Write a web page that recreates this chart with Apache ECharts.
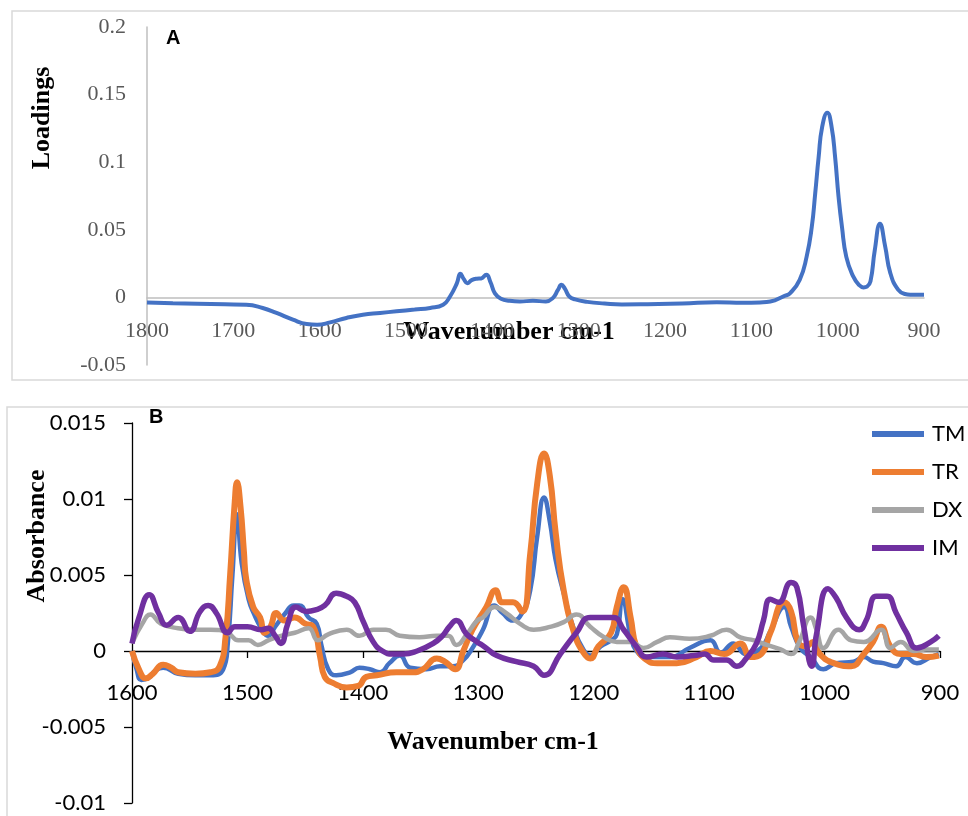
<!DOCTYPE html>
<html>
<head>
<meta charset="utf-8">
<script src="https://cdn.jsdelivr.net/npm/echarts@6/dist/echarts.min.js"></script>
<style>
  html, body { margin: 0; padding: 0; background: #fff; }
  #chart { width: 968px; height: 816px; }
</style>
</head>
<body>
<div id="chart"></div>
<script>
// Panel A: PCA loadings spectrum
const loadingsWavenumber = [1800, 1770, 1742, 1710, 1685, 1666, 1650, 1631, 1615, 1603, 1588, 1569, 1550, 1530, 1511, 1490, 1472, 1457, 1449, 1441, 1437, 1433, 1429, 1424, 1418, 1413, 1407, 1402, 1397, 1390, 1380, 1368, 1353, 1338, 1330, 1324, 1320, 1316, 1311, 1304, 1290, 1270, 1250, 1220, 1180, 1140, 1110, 1090, 1078, 1062, 1055, 1044, 1036, 1030, 1026, 1022, 1018, 1012, 1007, 1003, 999, 995, 990, 982, 975, 970, 966, 962, 957, 951, 945, 939, 930, 922, 916, 900];
const loadingsValues = [-0.0037, -0.0043, -0.0047, -0.0051, -0.0054, -0.0078, -0.0115, -0.0165, -0.0197, -0.0202, -0.0185, -0.0152, -0.0128, -0.0115, -0.0103, -0.009, -0.0078, -0.0054, 0.0007, 0.0106, 0.0175, 0.0135, 0.0105, 0.0128, 0.0138, 0.014, 0.0167, 0.011, 0.003, -0.001, -0.0025, -0.003, -0.0025, -0.003, -0.0005, 0.0055, 0.0093, 0.0065, 0.0008, -0.0015, -0.0033, -0.0045, -0.0052, -0.005, -0.0045, -0.0035, -0.004, -0.0037, -0.003, 0.001, 0.0032, 0.013, 0.030, 0.052, 0.077, 0.104, 0.126, 0.1366, 0.126, 0.104, 0.0746, 0.052, 0.030, 0.0155, 0.009, 0.0074, 0.008, 0.0118, 0.035, 0.0544, 0.0377, 0.018, 0.0057, 0.0025, 0.002, 0.002];

// Panel B: absorbance spectra
const tmWavenumber = [1600, 1596, 1592, 1586, 1580, 1573, 1560, 1545, 1532, 1521, 1517, 1513, 1509, 1505, 1499, 1494, 1488, 1482, 1476, 1467, 1460, 1455, 1447, 1440, 1436, 1430, 1423, 1411, 1403, 1394, 1385, 1377, 1368, 1359, 1345, 1333, 1322, 1313, 1305, 1296, 1286, 1279, 1270, 1262, 1255, 1249, 1243, 1238, 1233, 1226, 1217, 1209, 1203, 1194, 1185, 1180, 1175, 1168, 1163, 1154, 1134, 1117, 1099, 1090, 1079, 1068, 1055, 1047, 1035, 1029, 1021, 1012, 1001, 990, 975, 966, 958, 949, 938, 930, 920, 908, 901];
const tmAbsorbance = [0, -0.0012, -0.0019, -0.0018, -0.0013, -0.0011, -0.0015, -0.0016, -0.0016, -0.0012, 0.0005, 0.005, 0.009, 0.0058, 0.0034, 0.0024, 0.0015, 0.001, 0.0016, 0.0025, 0.003, 0.003, 0.0022, 0.0018, 0.0004, -0.0012, -0.0016, -0.0014, -0.0011, -0.0012, -0.0014, -0.0008, -0.0003, -0.0011, -0.0012, -0.001, -0.001, -0.0006, 0.0002, 0.0014, 0.003, 0.0025, 0.002, 0.0025, 0.004, 0.0075, 0.0101, 0.0085, 0.006, 0.0038, 0.0014, 0.0001, -0.0003, 0.0003, 0.0007, 0.0011, 0.0034, 0.001, 0, -0.0004, -0.0004, 0.0002, 0.0007, -0.0001, 0.0005, -0.0002, 0.0002, 0.0013, 0.0029, 0.0016, 0.0002, -0.0004, -0.0012, -0.0008, -0.0007, -0.0004, -0.0007, -0.0008, -0.001, -0.0004, -0.0008, -0.0004, -0.0002];

const trWavenumber = [1600, 1594, 1588, 1582, 1573, 1566, 1560, 1545, 1532, 1524, 1519, 1515, 1511, 1509, 1506, 1503, 1501, 1495, 1489, 1485, 1480, 1475, 1468, 1459, 1450, 1443, 1437, 1433, 1426, 1414, 1404, 1397, 1388, 1371, 1357, 1348, 1336, 1329, 1320, 1313, 1305, 1293, 1285, 1279, 1270, 1262, 1255, 1249, 1243, 1238, 1233, 1226, 1217, 1209, 1203, 1196, 1185, 1180, 1174, 1168, 1163, 1154, 1145, 1128, 1111, 1099, 1087, 1073, 1064, 1055, 1047, 1035, 1029, 1023, 1016, 1010, 1004, 992, 977, 966, 958, 951, 943, 934, 923, 912, 901];
const trAbsorbance = [0, -0.0012, -0.0018, -0.0015, -0.0009, -0.0011, -0.0014, -0.0015, -0.0014, -0.001, 0.0009, 0.005, 0.0098, 0.0111, 0.0095, 0.0065, 0.0047, 0.0029, 0.0022, 0.0012, 0.0016, 0.0025, 0.002, 0.0022, 0.0018, 0.0016, -0.0004, -0.0017, -0.0021, -0.0024, -0.0023, -0.0017, -0.0016, -0.0014, -0.0014, -0.0012, -0.0005, -0.0007, -0.0012, 0, 0.0014, 0.0029, 0.004, 0.0032, 0.0032, 0.0026, 0.0064, 0.011, 0.013, 0.0115, 0.0078, 0.004, 0.0012, -0.0001, -0.0005, 0.0003, 0.0012, 0.0029, 0.0042, 0.0022, 0.0003, -0.0006, -0.0008, -0.0008, -0.0004, 0, -0.0002, 0.0005, -0.0004, -0.0002, 0.0012, 0.0032, 0.0026, 0.0006, 0.0003, 0.0006, -0.0002, -0.0008, -0.001, -0.0002, 0.0006, 0.0016, 0.0003, -0.0002, -0.0002, -0.0004, -0.0003];

const dxWavenumber = [1600, 1591, 1584, 1575, 1560, 1545, 1532, 1517, 1508, 1499, 1491, 1482, 1471, 1459, 1447, 1439, 1430, 1414, 1403, 1391, 1380, 1368, 1351, 1336, 1326, 1319, 1310, 1301, 1296, 1286, 1276, 1264, 1252, 1237, 1226, 1215, 1203, 1191, 1180, 1168, 1157, 1145, 1134, 1117, 1099, 1085, 1073, 1061, 1050, 1038, 1029, 1022, 1012, 1007, 1001, 988, 977, 966, 951, 943, 934, 923, 912, 901];
const dxAbsorbance = [0.0005, 0.0018, 0.0024, 0.0018, 0.0015, 0.0014, 0.0014, 0.0012, 0.0007, 0.0007, 0.0004, 0.0007, 0.001, 0.0012, 0.0015, 0.0007, 0.0011, 0.0014, 0.001, 0.0014, 0.0014, 0.001, 0.0009, 0.001, 0.001, 0.0004, 0.0011, 0.002, 0.0022, 0.0029, 0.0025, 0.0018, 0.0014, 0.0016, 0.0019, 0.0024, 0.0016, 0.0009, 0.0006, 0.0006, 0.0002, 0.0006, 0.0009, 0.0008, 0.001, 0.0014, 0.0009, 0.0007, 0.0004, 0.0001, -0.0002, 0.0006, 0.0022, 0.0014, 0.0002, 0.0014, 0.0007, 0.0006, 0.0014, 0.0002, 0.0006, 0, 0.0001, 0.0001];

const imWavenumber = [1600, 1594, 1585, 1577, 1570, 1560, 1550, 1541, 1534, 1527, 1517, 1511, 1500, 1488, 1482, 1476, 1471, 1465, 1458, 1449, 1441, 1433, 1423, 1414, 1407, 1400, 1391, 1383, 1374, 1365, 1353, 1339, 1331, 1325, 1319, 1310, 1301, 1295, 1284, 1267, 1252, 1243, 1229, 1215, 1203, 1183, 1174, 1163, 1154, 1140, 1128, 1113, 1104, 1096, 1085, 1076, 1068, 1059, 1053, 1047, 1040, 1029, 1024, 1018, 1011, 1007, 997, 990, 981, 970, 964, 955, 946, 938, 929, 920, 908, 901];
const imAbsorbance = [0.0005, 0.0022, 0.0037, 0.0025, 0.0017, 0.0022, 0.0013, 0.0026, 0.003, 0.0025, 0.0012, 0.0016, 0.0016, 0.0014, 0.0015, 0.001, 0.0005, 0.0018, 0.0029, 0.0026, 0.0027, 0.003, 0.0038, 0.0036, 0.0032, 0.002, 0.0006, 0, -0.0002, -0.0002, 0, 0.0005, 0.001, 0.0016, 0.002, 0.0011, 0.0006, 0.0003, -0.0003, -0.0007, -0.001, -0.0016, -0.0002, 0.0012, 0.0022, 0.0022, 0.0014, 0.0003, -0.0004, -0.0002, -0.0004, -0.0003, -0.0002, -0.0006, -0.0006, -0.001, -0.0005, 0.0005, 0.002, 0.0034, 0.0032, 0.0045, 0.0042, 0.0016, -0.001, 0.0011, 0.0041, 0.0035, 0.0022, 0.0014, 0.002, 0.0036, 0.0036, 0.0025, 0.0012, 0.0002, 0.0006, 0.001];

const seriesNames = ['TM', 'TR', 'DX', 'IM'];
const seriesColors = ['#4472C4', '#ED7D31', '#A5A5A5', '#7030A0'];
const seriesWidths = [4.5, 6, 4.5, 5.5];

const loadingsTicks = { min: -0.05, max: 0.2, interval: 0.05 };
const absorbanceTicks = { min: -0.01, max: 0.015, interval: 0.005 };

function pairs(xs, ys) { return xs.map((x, i) => [x, ys[i]]); }
const plain = v => String(v);

const bSets = [
  pairs(tmWavenumber, tmAbsorbance),
  pairs(trWavenumber, trAbsorbance),
  pairs(dxWavenumber, dxAbsorbance),
  pairs(imWavenumber, imAbsorbance)
];

const serif = '"Liberation Serif", "Times New Roman", serif';
const sans = 'Lato, "Liberation Sans", Arial, sans-serif';

const chart = echarts.init(document.getElementById('chart'), null, { renderer: 'canvas' });

chart.setOption({
  animation: false,
  backgroundColor: '#ffffff',
  grid: [
    { left: 147, right: 44, top: 27, bottom: 451, outerBoundsMode: 'none', containLabel: false },
    { left: 132, right: 28, top: 423, bottom: 13, outerBoundsMode: 'none', containLabel: false }
  ],
  legend: {
    data: seriesNames,
    orient: 'vertical',
    left: 867,
    top: 410,
    icon: 'rect',
    itemWidth: 52,
    itemHeight: 6,
    itemGap: 0,
    textStyle: { fontFamily: sans, fontSize: 22, color: '#000', lineHeight: 38, padding: [0, 0, 0, 3] }
  },
  xAxis: [
    {
      gridIndex: 0, type: 'value', min: 900, max: 1800, interval: 100, inverse: true,
      axisLine: { show: true, onZero: true, lineStyle: { color: '#bfbfbf', width: 1.5 } },
      axisTick: { show: false },
      splitLine: { show: false },
      axisLabel: { fontFamily: serif, fontSize: 22, color: '#595959', margin: -45, formatter: plain }
    },
    {
      gridIndex: 1, type: 'value', min: 900, max: 1600, interval: 100, inverse: true,
      axisLine: { show: true, onZero: true, lineStyle: { color: '#000', width: 1.3 } },
      axisTick: { show: true, length: 7, lineStyle: { color: '#000', width: 1.3 } },
      splitLine: { show: false },
      axisLabel: { fontFamily: sans, fontSize: 22, color: '#000', margin: -121, formatter: plain }
    }
  ],
  yAxis: [
    {
      gridIndex: 0, type: 'value', min: loadingsTicks.min, max: loadingsTicks.max, interval: loadingsTicks.interval,
      axisLine: { show: true, onZero: false, lineStyle: { color: '#bfbfbf', width: 1.5 } },
      axisTick: { show: false },
      splitLine: { show: false },
      axisLabel: { fontFamily: serif, fontSize: 22, color: '#595959', margin: 21 }
    },
    {
      gridIndex: 1, type: 'value', min: absorbanceTicks.min, max: absorbanceTicks.max, interval: absorbanceTicks.interval,
      axisLine: { show: true, onZero: false, lineStyle: { color: '#000', width: 1.3 } },
      axisTick: { show: true, length: 8, lineStyle: { color: '#000', width: 1.3 } },
      splitLine: { show: false },
      axisLabel: { fontFamily: sans, fontSize: 22, color: '#000', margin: 26 }
    }
  ],
  series: [
    {
      name: 'Loadings', type: 'line', xAxisIndex: 0, yAxisIndex: 0,
      data: pairs(loadingsWavenumber, loadingsValues),
      showSymbol: false, smooth: 0.5,
      lineStyle: { color: '#4472C4', width: 4 }, itemStyle: { color: '#4472C4' }
    }
  ].concat(seriesNames.map((name, i) => ({
    name: name, type: 'line', xAxisIndex: 1, yAxisIndex: 1,
    data: bSets[i],
    showSymbol: false, smooth: 0.5,
    lineStyle: { color: seriesColors[i], width: seriesWidths[i] },
    itemStyle: { color: seriesColors[i] }
  }))),
  graphic: [
    { type: 'rect', silent: true, z: -1, shape: { x: 12, y: 11, width: 980, height: 369 },
      style: { fill: 'none', stroke: '#d9d9d9', lineWidth: 1.5 } },
    { type: 'rect', silent: true, z: -1, shape: { x: 7, y: 407, width: 985, height: 430 },
      style: { fill: 'none', stroke: '#d9d9d9', lineWidth: 1.5 } },
    { type: 'text', x: 166, y: 38, style: { text: 'A', font: 'bold 20px "Liberation Sans", Arial, sans-serif', fill: '#000', verticalAlign: 'middle' } },
    { type: 'text', x: 149, y: 417, style: { text: 'B', font: 'bold 20px "Liberation Sans", Arial, sans-serif', fill: '#000', verticalAlign: 'middle' } },
    { type: 'text', x: 42, y: 118, rotation: Math.PI / 2,
      style: { text: 'Loadings', font: 'bold 26px ' + serif, fill: '#000', align: 'center', verticalAlign: 'middle' } },
    { type: 'text', x: 509, y: 332,
      style: { text: 'Wavenumber cm-1', font: 'bold 26px ' + serif, fill: '#000', align: 'center', verticalAlign: 'middle' } },
    { type: 'text', x: 37, y: 536, rotation: Math.PI / 2,
      style: { text: 'Absorbance', font: 'bold 26px ' + serif, fill: '#000', align: 'center', verticalAlign: 'middle' } },
    { type: 'text', x: 493, y: 742,
      style: { text: 'Wavenumber cm-1', font: 'bold 26px ' + serif, fill: '#000', align: 'center', verticalAlign: 'middle' } }
  ]
});
</script>
</body>
</html>
